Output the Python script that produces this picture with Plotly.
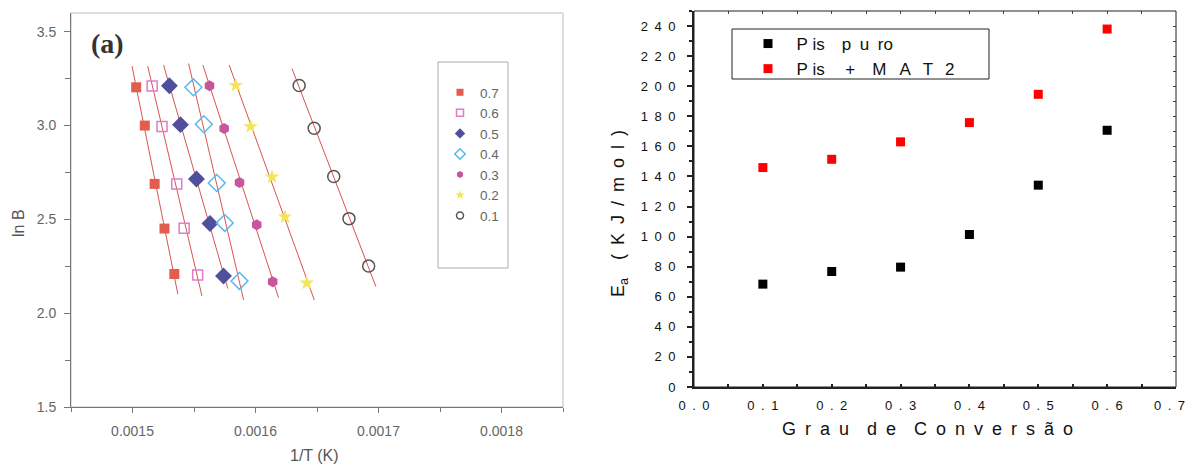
import numpy as np
import plotly.graph_objects as go

# ---------------- Left panel data: ln B vs 1/T ----------------
series_labels = ["0.7", "0.6", "0.5", "0.4", "0.3", "0.2", "0.1"]

invT_07 = [0.001503, 0.001510, 0.001518, 0.001526, 0.001534]
lnB_07 = [3.204, 3.000, 2.689, 2.451, 2.209]
invT_06 = [0.001516, 0.001524, 0.001536, 0.001542, 0.001553]
lnB_06 = [3.211, 2.995, 2.689, 2.453, 2.204]
invT_05 = [0.001530, 0.001539, 0.001552, 0.001563, 0.001574]
lnB_05 = [3.212, 3.005, 2.715, 2.478, 2.198]
invT_04 = [0.0015495, 0.001558, 0.0015685, 0.001575, 0.001587]
lnB_04 = [3.204, 3.007, 2.694, 2.481, 2.172]
invT_03 = [0.0015626, 0.0015745, 0.001587, 0.001601, 0.001614]
lnB_03 = [3.212, 2.984, 2.696, 2.471, 2.168]
invT_02 = [0.001584, 0.001596, 0.0016134, 0.001624, 0.0016417]
lnB_02 = [3.214, 2.995, 2.726, 2.513, 2.161]
invT_01 = [0.0016355, 0.0016477, 0.0016636, 0.001676, 0.001692]
lnB_01 = [3.214, 2.986, 2.729, 2.504, 2.251]

# vertical extent of each fitted line (ln B at top and bottom end)
fit_top = [3.317, 3.317, 3.322, 3.331, 3.322, 3.322, 3.304]
fit_bottom = [2.101, 2.092, 2.131, 2.071, 2.083, 2.071, 2.142]

left_x = [invT_07, invT_06, invT_05, invT_04, invT_03, invT_02, invT_01]
left_y = [lnB_07, lnB_06, lnB_05, lnB_04, lnB_03, lnB_02, lnB_01]

left_xticks = [0.0015, 0.0016, 0.0017, 0.0018]
left_yticks = [1.5, 2.0, 2.5, 3.0, 3.5]

# ---------------- Right panel data: Ea vs conversion ----------------
conversion = [0.1, 0.2, 0.3, 0.4, 0.5, 0.6]
ea_pis_puro = [68.4, 76.8, 79.7, 101.4, 134.2, 170.7]
ea_pis_mat2 = [145.9, 151.4, 163.0, 175.8, 194.6, 238.0]

right_xticks = [0.0, 0.1, 0.2, 0.3, 0.4, 0.5, 0.6, 0.7]
right_yticks = list(range(0, 241, 20))

W, H = 1187, 465


def px(x):
    return x / W


def py(y):
    return 1 - y / H


def spread(s, gap="\u2002"):
    return (gap * 2).join(gap.join(w) for w in s.split(" "))


symbols = ["square", "square-open", "diamond", "diamond-open", "hexagon", "star", "circle-open"]
colors = ["#e35d4f", "#e07cc8", "#4f4f9e", "#5bb8ec", "#c9559b", "#f5e35a", "#555555"]
sizes = [10, 10, 13, 13, 11, 11, 12]
legend_sizes = [7, 7, 8, 8, 7, 7, 7]

fig = go.Figure()

for i, lab in enumerate(series_labels):
    xs = np.array(left_x[i])
    ys = np.array(left_y[i])
    slope, icpt = np.polyfit(ys, xs, 1)
    yl = np.array([fit_top[i], fit_bottom[i]])
    fig.add_trace(go.Scatter(
        x=slope * yl + icpt, y=yl, mode="lines",
        line=dict(color="#d9534f", width=1),
        xaxis="x", yaxis="y", showlegend=False, hoverinfo="skip"))

for i, lab in enumerate(series_labels):
    open_sym = "open" in symbols[i]
    fig.add_trace(go.Scatter(
        x=left_x[i], y=left_y[i], mode="markers",
        marker=dict(symbol=symbols[i], size=sizes[i], color=colors[i],
                    line=dict(width=1.5 if open_sym else 0, color=colors[i])),
        xaxis="x", yaxis="y", showlegend=False))
    # legend proxy (smaller symbol as in the reference legend)
    fig.add_trace(go.Scatter(
        x=[None], y=[None], mode="markers", name=lab,
        marker=dict(symbol=symbols[i], size=legend_sizes[i], color=colors[i],
                    line=dict(width=1.5 if open_sym else 0, color=colors[i])),
        xaxis="x", yaxis="y", legend="legend"))

fig.add_trace(go.Scatter(
    x=conversion, y=ea_pis_puro, mode="markers",
    name="\u2002P\u00a0is\u2003p\u2002u\u2002ro",
    marker=dict(symbol="square", size=9, color="#000000"),
    xaxis="x2", yaxis="y2", legend="legend2"))
fig.add_trace(go.Scatter(
    x=conversion, y=ea_pis_mat2, mode="markers",
    name="\u2002P\u00a0is\u2003\u2009+\u2003M\u2002\u00a0A\u2002\u2009T\u2002\u20092",
    marker=dict(symbol="square", size=9, color="#ff0000"),
    xaxis="x2", yaxis="y2", legend="legend2"))
# empty trace so that the mirrored top/right tick axes are drawn
fig.add_trace(go.Scatter(x=[None], y=[None], xaxis="x3", yaxis="y3",
                         showlegend=False, hoverinfo="skip"))

left_font = dict(family="Liberation Sans, Arial", size=14, color="#666666")
right_font = dict(family="Liberation Sans, Arial", size=13, color="#111111")


def note(text, x, y, font, angle=0):
    return dict(text=text, x=px(x), y=py(y), xref="paper", yref="paper",
                xanchor="center", yanchor="middle", showarrow=False,
                textangle=angle, font=font)


x2_range = [0, 0.70001]
y2_range = [0, 250]

x2_ticktext = [spread(f"{v:.1f}") for v in right_xticks]
# last label sits at the figure edge: pad it so it stays inside
x2_ticktext[-1] = x2_ticktext[-1] + "\u2002\u2002"

fig.update_layout(
    template="none",
    width=W, height=H, autosize=False,
    margin=dict(l=0, r=0, t=0, b=0, autoexpand=False),
    paper_bgcolor="white", plot_bgcolor="white",
    xaxis=dict(domain=[px(71), px(563)], range=[0.00145, 0.00185], automargin=False,
               showgrid=False, zeroline=False, showline=True,
               linecolor="#777777", linewidth=1,
               tickmode="array", tickvals=left_xticks,
               ticktext=[f"{v:.4f}" for v in left_xticks],
               ticks="outside", ticklen=5, tickcolor="#777777",
               minor=dict(dtick=0.00005, tick0=0.0015, ticks="outside", ticklen=4, tickcolor="#777777", showgrid=False),
               tickfont=left_font, ticklabelstandoff=6),
    yaxis=dict(domain=[py(407), py(13)], range=[1.5, 3.6], automargin=False,
               showgrid=False, zeroline=False, showline=True,
               linecolor="#777777", linewidth=1,
               tickmode="array", tickvals=left_yticks,
               ticktext=[f"{v:.1f}" for v in left_yticks],
               ticks="outside", ticklen=6, tickcolor="#777777",
               minor=dict(dtick=0.25, tick0=1.5, ticks="outside", ticklen=5, tickcolor="#777777", showgrid=False),
               tickfont=left_font, ticklabelstandoff=5),
    xaxis2=dict(domain=[px(694), px(1176)], range=x2_range, anchor="y2", automargin=False,
                showgrid=False, zeroline=False, showline=True,
                linecolor="#222222", linewidth=2,
                tickmode="array", tickvals=right_xticks,
                ticktext=x2_ticktext,
                ticks="inside", ticklen=3, tickcolor="#222222", tickwidth=1.5,
                minor=dict(dtick=0.05, tick0=0, ticks="inside", ticklen=3, tickcolor="#222222", tickwidth=1.5, showgrid=False),
                tickfont=right_font, ticklabelstandoff=5, ticklabeloverflow="allow"),
    yaxis2=dict(domain=[py(387), py(11)], range=y2_range, anchor="x2", automargin=False,
                showgrid=False, zeroline=False, showline=True,
                linecolor="#222222", linewidth=2,
                tickmode="array", tickvals=right_yticks,
                ticktext=[spread(str(v)) for v in right_yticks],
                ticks="outside", ticklen=5, tickcolor="#222222", tickwidth=1.5,
                minor=dict(dtick=10, tick0=0, ticks="outside", ticklen=3, tickcolor="#222222", tickwidth=1.5, showgrid=False),
                tickfont=right_font, ticklabelstandoff=9),
    # mirrored inner ticks on top and right borders of the right panel
    xaxis3=dict(domain=[px(694), px(1176)], range=x2_range, anchor="y3", side="top",
                overlaying="x2", automargin=False, showgrid=False, zeroline=False,
                showline=False, showticklabels=False, tickmode="linear", tick0=0, dtick=0.05,
                ticks="inside", ticklen=3, tickcolor="#444444", tickwidth=1),
    yaxis3=dict(domain=[py(387), py(11)], range=y2_range, anchor="x3", side="right",
                overlaying="y2", automargin=False, showgrid=False, zeroline=False,
                showline=False, showticklabels=False, tickmode="linear", tick0=0, dtick=10,
                ticks="inside", ticklen=3, tickcolor="#444444", tickwidth=1),
    legend=dict(x=px(440), y=py(77), xanchor="left", yanchor="top",
                bgcolor="rgba(0,0,0,0)", borderwidth=0,
                font=dict(family="Liberation Sans, Arial", size=13.5, color="#666666"),
                tracegroupgap=0, itemsizing="trace"),
    legend2=dict(x=px(748), y=py(26), xanchor="left", yanchor="top",
                 bgcolor="rgba(0,0,0,0)", borderwidth=0,
                 font=dict(family="Liberation Sans, Arial", size=17, color="#111111"),
                 tracegroupgap=0, itemsizing="trace"),
    shapes=[
        dict(type="rect", xref="x domain", yref="y domain", x0=0, x1=1, y0=0, y1=1,
             line=dict(color="#bbbbbb", width=1), layer="below"),
        dict(type="rect", xref="paper", yref="paper", x0=px(438), x1=px(508), y0=py(268), y1=py(62),
             line=dict(color="#aaaaaa", width=1)),
        dict(type="rect", xref="x2 domain", yref="y2 domain", x0=0, x1=1, y0=0, y1=1,
             line=dict(color="#222222", width=1)),
        dict(type="rect", xref="paper", yref="paper", x0=px(732), x1=px(989), y0=py(79), y1=py(29),
             line=dict(color="#222222", width=1)),
    ],
    annotations=[
        note("<b>(a)</b>", 107, 43,
             dict(family="Liberation Serif, Times New Roman", size=28, color="#333333")),
        note("ln B", 19, 223, dict(family="Liberation Sans, Arial", size=16, color="#555555"), -90),
        note("1/T (K)", 314, 455, dict(family="Liberation Sans, Arial", size=16, color="#555555")),
        note("E<sub>a</sub>\u2003(\u2002K\u2002J\u2002/\u2002m\u2002o\u2002l\u2002)", 620, 213,
             dict(family="Liberation Sans, Arial", size=18, color="#111111"), -90),
        note(spread("Grau de Conversão"), 927, 429,
             dict(family="Liberation Sans, Arial", size=18, color="#111111")),
    ],
)

fig.write_html("out.html", config={"displayModeBar": False},
               post_script="document.body.style.margin='0';")
